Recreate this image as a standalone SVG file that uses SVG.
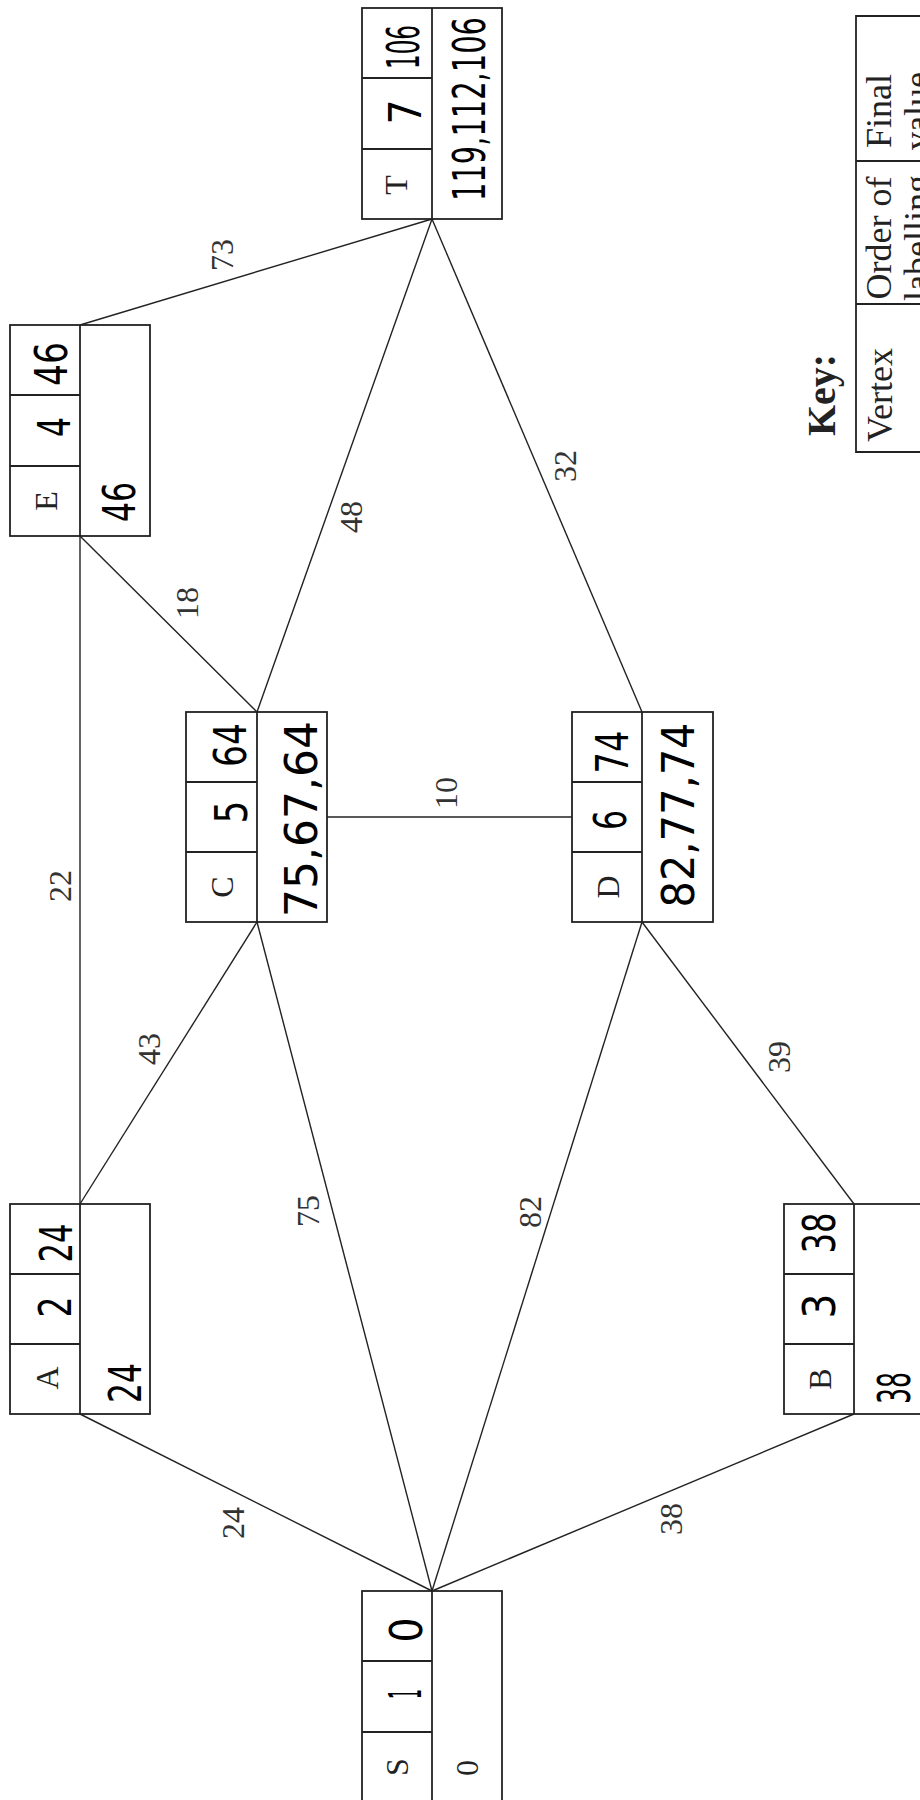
<svg xmlns="http://www.w3.org/2000/svg" width="920" height="1800" viewBox="0 0 920 1800">
<style>
.box{fill:#fff;stroke:#222;stroke-width:1.8}
.div{stroke:#222;stroke-width:1.8;fill:none}
.edge{stroke:#222;stroke-width:1.4;fill:none}
.ser{font-family:"Liberation Serif","Times New Roman",serif;font-size:32px;fill:#222;text-anchor:middle;dominant-baseline:central}
.lab{font-family:"Liberation Serif","Times New Roman",serif;font-size:32px;fill:#333;text-anchor:middle;dominant-baseline:central}
.hw{font-family:"DejaVu Sans",sans-serif;font-size:44px;fill:#000;text-anchor:middle;dominant-baseline:central}
.key{font-family:"Liberation Serif","Times New Roman",serif;font-size:36px;fill:#222;text-anchor:middle}
.keyb{font-family:"Liberation Serif","Times New Roman",serif;font-size:40px;font-weight:bold;fill:#222;text-anchor:middle}
</style>
<g id="connectors">
<line class="edge" x1="432" y1="1591" x2="80" y2="1414"/>
<line class="edge" x1="432" y1="1591" x2="257" y2="922"/>
<line class="edge" x1="432" y1="1591" x2="642" y2="922"/>
<line class="edge" x1="432" y1="1591" x2="854" y2="1414"/>
<line class="edge" x1="80" y1="1204" x2="257" y2="922"/>
<line class="edge" x1="80" y1="1204" x2="80" y2="536"/>
<line class="edge" x1="80" y1="536" x2="257" y2="712"/>
<line class="edge" x1="80" y1="325" x2="432" y2="219"/>
<line class="edge" x1="257" y1="712" x2="432" y2="219"/>
<line class="edge" x1="327" y1="817" x2="572" y2="817"/>
<line class="edge" x1="642" y1="712" x2="432" y2="219"/>
<line class="edge" x1="642" y1="922" x2="854" y2="1204"/>
<text class="lab" transform="translate(233,1523) rotate(-90)">24</text>
<text class="lab" transform="translate(308,1211) rotate(-90)">75</text>
<text class="lab" transform="translate(530,1212) rotate(-90)">82</text>
<text class="lab" transform="translate(671,1519) rotate(-90)">38</text>
<text class="lab" transform="translate(149,1049) rotate(-90)">43</text>
<text class="lab" transform="translate(60,886) rotate(-90)">22</text>
<text class="lab" transform="translate(187,603) rotate(-90)">18</text>
<text class="lab" transform="translate(222,255) rotate(-90)">73</text>
<text class="lab" transform="translate(351,517) rotate(-90)">48</text>
<text class="lab" transform="translate(446,793) rotate(-90)">10</text>
<text class="lab" transform="translate(565,466) rotate(-90)">32</text>
<text class="lab" transform="translate(779,1057) rotate(-90)">39</text>
</g>
<g id="node-S">
<rect class="box" x="362" y="1591" width="140" height="211"/>
<line class="div" x1="432" y1="1591" x2="432" y2="1802"/>
<line class="div" x1="362" y1="1661" x2="432" y2="1661"/>
<line class="div" x1="362" y1="1732" x2="432" y2="1732"/>
<text class="hw" transform="translate(406,1630) rotate(-90)" textLength="25" lengthAdjust="spacingAndGlyphs">0</text>
<text class="hw" transform="translate(405,1694) rotate(-90)" textLength="10" lengthAdjust="spacingAndGlyphs">1</text>
<text class="ser" transform="translate(397,1767) rotate(-90)">S</text>
<text class="ser" transform="translate(467,1768) rotate(-90)">0</text>
</g>
<g id="node-A">
<rect class="box" x="10" y="1204" width="140" height="210"/>
<line class="div" x1="80" y1="1204" x2="80" y2="1414"/>
<line class="div" x1="10" y1="1274" x2="80" y2="1274"/>
<line class="div" x1="10" y1="1344" x2="80" y2="1344"/>
<text class="hw" transform="translate(56,1243) rotate(-90)" textLength="39" lengthAdjust="spacingAndGlyphs">24</text>
<text class="hw" transform="translate(55,1307) rotate(-90)" textLength="21" lengthAdjust="spacingAndGlyphs">2</text>
<text class="ser" transform="translate(47,1378) rotate(-90)">A</text>
<text class="hw" transform="translate(125,1383) rotate(-90)" textLength="40" lengthAdjust="spacingAndGlyphs">24</text>
</g>
<g id="node-B">
<rect class="box" x="784" y="1204" width="140" height="210"/>
<line class="div" x1="854" y1="1204" x2="854" y2="1414"/>
<line class="div" x1="784" y1="1274" x2="854" y2="1274"/>
<line class="div" x1="784" y1="1344" x2="854" y2="1344"/>
<text class="hw" transform="translate(819,1233) rotate(-90)" textLength="41" lengthAdjust="spacingAndGlyphs">38</text>
<text class="hw" transform="translate(819,1306) rotate(-90)" textLength="25" lengthAdjust="spacingAndGlyphs">3</text>
<text class="ser" transform="translate(820,1379) rotate(-90)">B</text>
<text class="hw" transform="translate(894,1388) rotate(-90)" textLength="32" lengthAdjust="spacingAndGlyphs">38</text>
</g>
<g id="node-C">
<rect class="box" x="186" y="712" width="141" height="210"/>
<line class="div" x1="257" y1="712" x2="257" y2="922"/>
<line class="div" x1="186" y1="782" x2="257" y2="782"/>
<line class="div" x1="186" y1="852" x2="257" y2="852"/>
<text class="hw" transform="translate(230,745) rotate(-90)" textLength="44" lengthAdjust="spacingAndGlyphs">64</text>
<text class="hw" transform="translate(231,812) rotate(-90)" textLength="23" lengthAdjust="spacingAndGlyphs">5</text>
<text class="ser" transform="translate(222,887) rotate(-90)">C</text>
<text class="hw" transform="translate(301,819) rotate(-90)" textLength="196" lengthAdjust="spacingAndGlyphs">75,67,64</text>
</g>
<g id="node-D">
<rect class="box" x="572" y="712" width="141" height="210"/>
<line class="div" x1="642" y1="712" x2="642" y2="922"/>
<line class="div" x1="572" y1="782" x2="642" y2="782"/>
<line class="div" x1="572" y1="852" x2="642" y2="852"/>
<text class="hw" transform="translate(612,752) rotate(-90)" textLength="43" lengthAdjust="spacingAndGlyphs">74</text>
<text class="hw" transform="translate(610,820) rotate(-90)" textLength="20" lengthAdjust="spacingAndGlyphs">6</text>
<text class="ser" transform="translate(608,887) rotate(-90)">D</text>
<text class="hw" transform="translate(678,815) rotate(-90)" textLength="185" lengthAdjust="spacingAndGlyphs">82,77,74</text>
</g>
<g id="node-E">
<rect class="box" x="10" y="325" width="140" height="211"/>
<line class="div" x1="80" y1="325" x2="80" y2="536"/>
<line class="div" x1="10" y1="395" x2="80" y2="395"/>
<line class="div" x1="10" y1="466" x2="80" y2="466"/>
<text class="hw" transform="translate(51,364) rotate(-90)" textLength="44" lengthAdjust="spacingAndGlyphs">46</text>
<text class="hw" transform="translate(54,427) rotate(-90)" textLength="20" lengthAdjust="spacingAndGlyphs">4</text>
<text class="ser" transform="translate(46,501) rotate(-90)">E</text>
<text class="hw" transform="translate(119,502) rotate(-90)" textLength="40" lengthAdjust="spacingAndGlyphs">46</text>
</g>
<g id="node-T">
<rect class="box" x="362" y="8" width="140" height="211"/>
<line class="div" x1="432" y1="8" x2="432" y2="219"/>
<line class="div" x1="362" y1="78" x2="432" y2="78"/>
<line class="div" x1="362" y1="149" x2="432" y2="149"/>
<text class="hw" transform="translate(403,47) rotate(-90)" textLength="44" lengthAdjust="spacingAndGlyphs">106</text>
<text class="hw" transform="translate(405,112) rotate(-90)" textLength="25" lengthAdjust="spacingAndGlyphs">7</text>
<text class="ser" transform="translate(396,185) rotate(-90)">T</text>
<text class="hw" transform="translate(469,109) rotate(-90)" textLength="184" lengthAdjust="spacingAndGlyphs">119,112,106</text>
</g>
<g id="key">
<text class="keyb" transform="translate(835,395) rotate(-90)">Key:</text>
<polyline class="div" points="925,16 856,16 856,452 925,452"/>
<line class="div" x1="856" y1="161" x2="925" y2="161"/>
<line class="div" x1="856" y1="304" x2="925" y2="304"/>
<text class="key" transform="translate(891,111) rotate(-90)">Final</text>
<text class="key" transform="translate(929,111) rotate(-90)">value</text>
<text class="key" transform="translate(891,238) rotate(-90)">Order of</text>
<text class="key" transform="translate(929,238) rotate(-90)">labelling</text>
<text class="key" transform="translate(892,395) rotate(-90)">Vertex</text>
</g>
</svg>
